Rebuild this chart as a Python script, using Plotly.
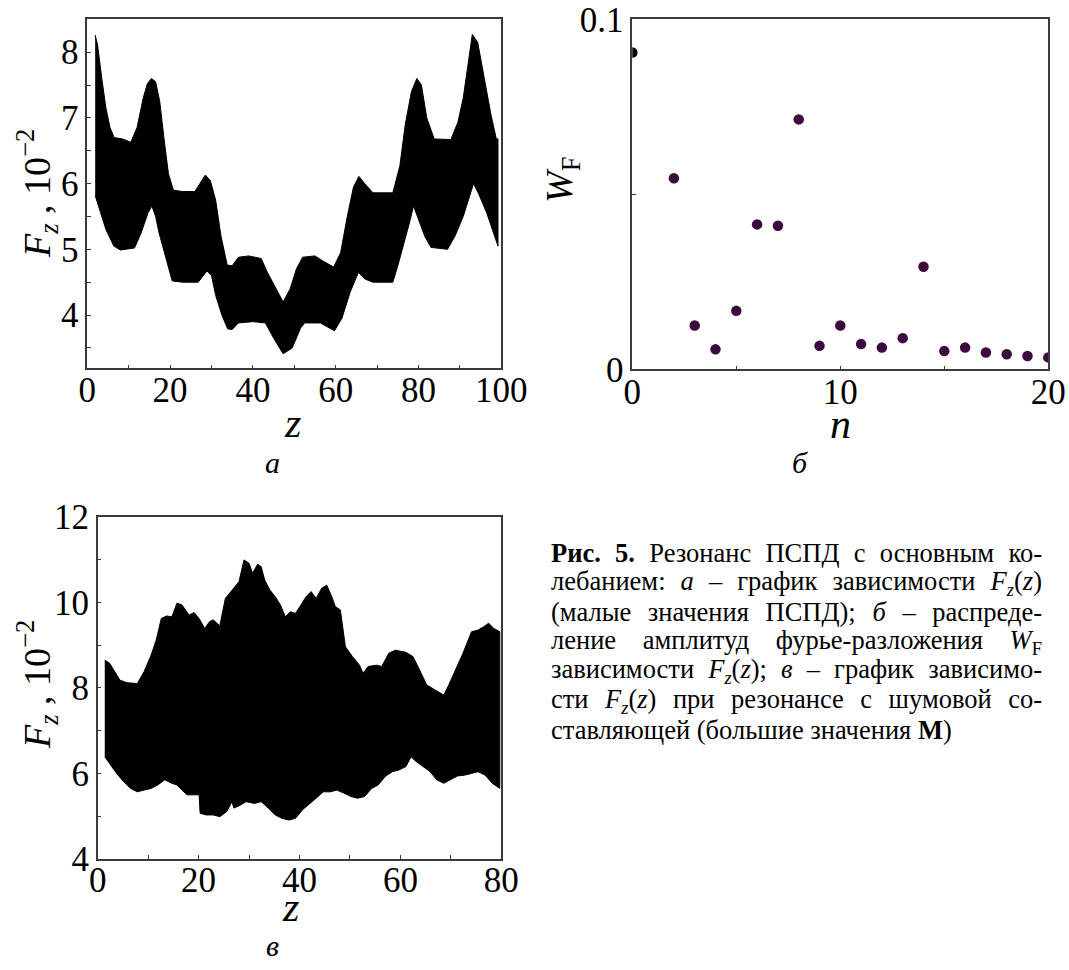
import plotly.graph_objects as go

W, H = 1069, 970

# ---------------- data: panel а (F_z envelope, 10^-2) ----------------
z_a_up = [1.9, 2.5, 3.5, 4.5, 5.5, 6.5, 8.5, 10.5, 12, 13.5, 14.5, 15.5, 16.5, 17.5, 18.5, 19.6,
          20.8, 23, 26, 27.3, 28.5, 29.7, 31, 32.3, 33.8, 35, 36.5, 39, 42, 43.5, 45.5, 47.3,
          49, 50.5, 52, 55, 57, 59.5, 61.2, 62.8, 64.3, 65.6, 67, 69, 73.8, 75.5, 76.8, 78.3,
          79.6, 80.7, 82, 83.8, 87.8, 89.5, 90.8, 92, 93, 94.3, 95.8, 97.5, 98.8, 99.2]
F_a_up = [8.26, 8.1, 7.6, 7.15, 6.85, 6.7, 6.68, 6.63, 6.85, 7.3, 7.52, 7.6, 7.55, 7.25, 6.7, 6.15,
          5.9, 5.88, 5.88, 6.0, 6.13, 6.05, 5.75, 5.2, 4.76, 4.75, 4.88, 4.9, 4.86, 4.65, 4.4, 4.2,
          4.4, 4.7, 4.88, 4.9, 4.82, 4.73, 4.95, 5.5, 5.95, 6.11, 6.0, 5.86, 5.86, 6.27, 6.9, 7.4,
          7.6, 7.5, 7.0, 6.68, 6.67, 6.93, 7.3, 7.8, 8.27, 8.15, 7.65, 7.05, 6.68, 6.68]
z_a_lo = [1.9, 3, 4.5, 6.4, 8, 11.4, 13, 14.7, 15.6, 16.5, 17.3, 18.8, 20.5, 23, 26.8, 28.9, 30,
          31, 32.5, 33.9, 35, 36.5, 40, 43, 45, 47.3, 49.5, 51.5, 52.5, 56.3, 58, 59.7, 61.5,
          63.5, 65.5, 67, 69, 73.8, 75, 76.3, 77.8, 78.8, 80, 81.5, 83, 87, 88.8, 90.8, 93.3,
          94.5, 96.5, 99.2]
F_a_lo = [5.82, 5.6, 5.3, 5.05, 4.99, 5.02, 5.25, 5.56, 5.66, 5.5, 5.26, 4.9, 4.52, 4.5, 4.5, 4.67,
          4.6, 4.3, 4.0, 3.79, 3.78, 3.88, 3.9, 3.88, 3.65, 3.41, 3.5, 3.8, 3.88, 3.88, 3.82, 3.76,
          3.95, 4.35, 4.65, 4.55, 4.5, 4.5, 4.75, 5.03, 5.4, 5.66, 5.45, 5.2, 5.03, 5.0, 5.2, 5.5,
          6.0, 5.85, 5.55, 5.05]

# ---------------- data: panel б (Fourier amplitudes W_F) ----------------
n_b = [0, 2, 3, 4, 5, 6, 7, 8, 9, 10, 11, 12, 13, 14, 15, 16, 17, 18, 19, 20]
W_b = [0.0905, 0.0546, 0.0125, 0.0057, 0.0167, 0.0414, 0.041, 0.0714, 0.0067, 0.0125, 0.0072,
       0.0062, 0.0089, 0.0293, 0.0052, 0.0062, 0.0048, 0.0043, 0.0038, 0.0034]

# ---------------- data: panel в (F_z envelope, 10^-2) ----------------
z_c_up = [1.4, 2.4, 4.4, 5.8, 7.85, 9.2, 10.6, 11.6, 12.6, 13.65, 14.7, 15.7, 16.7, 18.1, 19.1,
          20.1, 21.2, 22.2, 22.9, 24.2, 25.3, 27, 28, 29, 30, 30.7, 31.7, 32.4, 33.1, 34.1, 35.2,
          36.2, 37.2, 38.2, 39.2, 40.3, 41.3, 42.3, 43.3, 44.4, 45.4, 46.4, 47.1, 48.1, 49.1,
          50.5, 51.9, 52.6, 53.6, 55.3, 56.3, 57.7, 59, 61.1, 62.5, 63.8, 65.2, 66.9, 68.6, 69.6,
          71, 72.4, 74.1, 75.4, 76.5, 77.5, 78.5, 79.7]
F_c_up = [8.65, 8.57, 8.18, 8.12, 8.1, 8.38, 8.77, 9.12, 9.62, 9.68, 9.66, 9.98, 9.94, 9.7, 9.76,
          9.62, 9.39, 9.55, 9.59, 9.45, 10.09, 10.33, 10.48, 10.99, 10.91, 10.68, 10.89, 10.83,
          10.52, 10.29, 10.13, 9.94, 9.66, 9.78, 9.74, 9.94, 10.13, 10.25, 10.09, 10.33, 10.4,
          10.13, 9.9, 9.82, 8.96, 8.73, 8.53, 8.34, 8.5, 8.53, 8.5, 8.81, 8.88, 8.83, 8.73, 8.42,
          8.07, 7.95, 7.83, 8.07, 8.42, 8.81, 9.31, 9.35, 9.43, 9.51, 9.39, 9.31]
z_c_lo = [1.4, 2.4, 3.75, 5.1, 6.5, 7.85, 9.2, 10.6, 11.9, 13.3, 14.7, 15.7, 16.7, 17.7, 20.1,
          20.3, 21.5, 22.9, 24.2, 25.6, 26.6, 27, 28.3, 29.4, 31.1, 32.4, 33.8, 35.2, 36.5, 37.9,
          39.2, 40.6, 42, 43.3, 44.7, 46.1, 47.4, 48.8, 50.2, 51.5, 52.9, 54.3, 55.6, 57, 58.4,
          59.7, 61.1, 62.1, 63.1, 64.5, 65.9, 67.2, 68.6, 70, 71.3, 72.7, 74.1, 75.4, 76.8, 78.2,
          79.7]
F_c_lo = [6.39, 6.24, 6.0, 5.81, 5.65, 5.57, 5.61, 5.65, 5.73, 5.85, 5.77, 5.73, 5.61, 5.5, 5.5,
          5.07, 5.03, 5.03, 4.99, 5.11, 5.34, 5.19, 5.26, 5.34, 5.3, 5.34, 5.19, 5.03, 4.95, 4.91,
          4.95, 5.15, 5.3, 5.42, 5.57, 5.57, 5.61, 5.54, 5.46, 5.42, 5.46, 5.65, 5.73, 5.93, 6.04,
          6.08, 6.16, 6.39, 6.28, 6.16, 6.04, 5.85, 5.77, 5.85, 5.94, 5.96, 6.0, 6.04, 5.96, 5.77,
          5.65]

caption_lines = [
    "<b>Рис. 5.</b> Резонанс ПСПД с основным ко-",
    "лебанием: <i>а</i> – график зависимости <i>F</i><sub><i>z</i></sub>(<i>z</i>)",
    "(малые значения ПСПД); <i>б</i> – распреде-",
    "ление амплитуд фурье-разложения <i>W</i><sub>F</sub>",
    "зависимости <i>F</i><sub><i>z</i></sub>(<i>z</i>); <i>в</i> – график зависимо-",
    "сти <i>F</i><sub><i>z</i></sub>(<i>z</i>) при резонансе с шумовой со-",
    "ставляющей (большие значения <b>M</b>)",
]

FONT = "Liberation Serif"
AX = "#3a3a3a"


def px_x(p):
    return p / W


def px_y(p):
    return 1 - p / H


fig = go.Figure()

# panel а band
fig.add_trace(go.Scatter(
    x=z_a_up + z_a_lo[::-1], y=F_a_up + F_a_lo[::-1], fill="toself",
    fillcolor="black", line=dict(color="black", width=1), mode="lines",
    xaxis="x", yaxis="y", showlegend=False, hoverinfo="skip"))

# panel б points
fig.add_trace(go.Scatter(
    x=n_b, y=W_b, mode="markers",
    marker=dict(size=10.5, color=["black"] + ["#3c0b3e"] * (len(n_b) - 1), line=dict(width=0)),
    xaxis="x2", yaxis="y2", showlegend=False))

# panel в band
fig.add_trace(go.Scatter(
    x=z_c_up + z_c_lo[::-1], y=F_c_up + F_c_lo[::-1], fill="toself",
    fillcolor="black", line=dict(color="black", width=1), mode="lines",
    xaxis="x3", yaxis="y3", showlegend=False, hoverinfo="skip"))


def axis(domain, rng, dtick, minor, anchor, standoff=0):
    return dict(
        domain=domain, range=rng, dtick=dtick, tick0=0, anchor=anchor, automargin=False,
        showline=True, mirror=True, linecolor=AX, linewidth=1.5,
        ticks="inside", ticklen=4, tickwidth=1, tickcolor=AX,
        minor=dict(dtick=minor, ticks="inside", ticklen=4, tickwidth=1, tickcolor=AX),
        showgrid=False, zeroline=False, ticklabelstandoff=standoff,
        tickfont=dict(family=FONT, size=35, color="black"),
    )


fig.update_layout(
    width=W, height=H, margin=dict(l=0, r=0, t=0, b=0, pad=0, autoexpand=False),
    paper_bgcolor="white", plot_bgcolor="white",
    xaxis=axis([px_x(87.3), px_x(501.3)], [0, 100], 20, 10, "y", -10),
    yaxis=axis([px_y(368.3), px_y(19.3)], [3.19, 8.5], 1, 0.5, "x"),
    xaxis2=axis([px_x(632.3), px_x(1048.3)], [0, 20], 10, 5, "y2", -9),
    yaxis2=axis([px_y(369.3), px_y(19.3)], [0, 0.1], 0.1, 0.05, "x2"),
    xaxis3=axis([px_x(97.7), px_x(501.3)], [0, 80], 20, 10, "y3", -11),
    yaxis3=axis([px_y(859), px_y(516.7)], [4, 12], 2, 1, "x3"),
)

ann = []


def text(x, y, s, size, angle=0, xanchor="center", yanchor="middle", align="center"):
    ann.append(dict(x=px_x(x), y=px_y(y), xref="paper", yref="paper", text=s, showarrow=False,
                    textangle=angle, xanchor=xanchor, yanchor=yanchor, align=align,
                    font=dict(family=FONT, size=size, color="black")))


fzt = "<i>F</i><sub><i>z</i></sub> , 10<sup>−2</sup>"
text(37, 194, fzt, 38, angle=-90)
text(37, 685, fzt, 38, angle=-90)
text(562, 180, "<i>W</i><sub>F</sub>", 38, angle=-90)
text(292, 423, "<i>z</i>", 42)
text(840, 424, "<i>n</i>", 42)
text(290, 907, "<i>z</i>", 42)
text(272, 462, "<i>а</i>", 30)
text(800, 462, "<i>б</i>", 30)
text(272, 945, "<i>в</i>", 30)

cap_start = len(ann)
for i, line in enumerate(caption_lines):
    text(549, 553 + 29.5 * i, line, 26.5, xanchor="left", align="left")

fig.update_layout(annotations=ann)

# justify all caption lines except the last one to the right edge (x = 1050 px)
just_idx = list(range(cap_start, cap_start + len(caption_lines) - 1))
post = """
var gd = document.getElementById('{plot_id}');
var JIDX = %s, RIGHT = 1050;
function justify() {
  gd.querySelectorAll('g.annotation').forEach(function (g) {
    var idx = +g.getAttribute('data-index');
    if (JIDX.indexOf(idx) < 0) return;
    var t = g.querySelector('text.annotation-text');
    if (!t) return;
    t.style.wordSpacing = '0px';
    var bb = t.getBoundingClientRect();
    var nsp = (t.textContent.match(/ /g) || []).length;
    if (nsp > 0) { t.style.wordSpacing = ((RIGHT - bb.right) / nsp) + 'px'; }
  });
}
justify();
if (gd.on) { gd.on('plotly_afterplot', justify); }
""" % str(just_idx)

fig.write_html("out.html", post_script=post)
